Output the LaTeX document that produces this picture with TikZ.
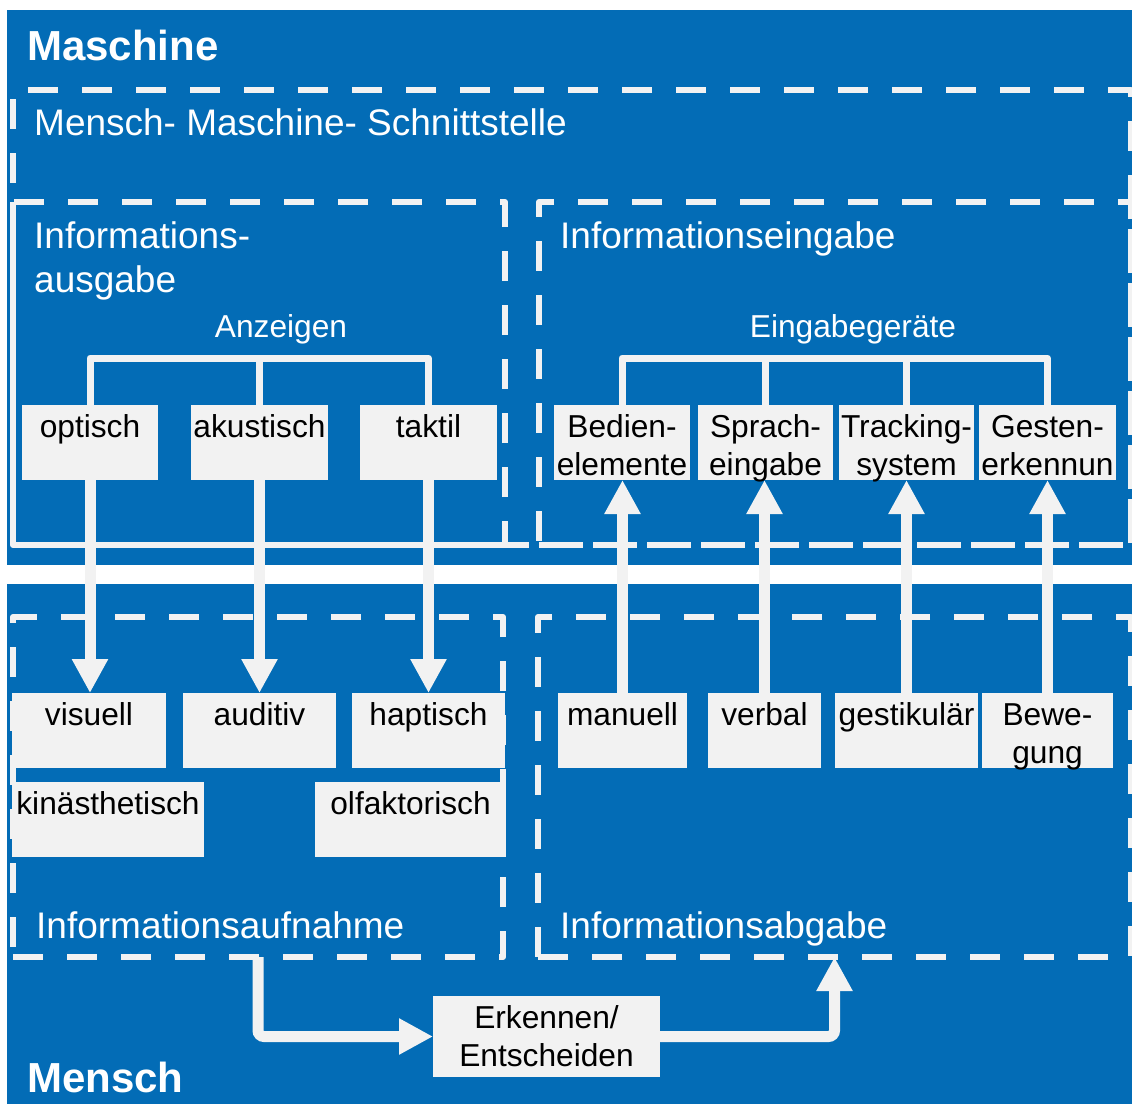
\documentclass[tikz,border=0pt]{standalone}
\usepackage{fontspec}
\setmainfont{Liberation Sans}
\usetikzlibrary{arrows.meta}

\definecolor{panelblue}{RGB}{3,108,182}
\definecolor{boxgray}{RGB}{242,242,242}

\newcommand\titlefont{\fontsize{42}{48}\selectfont\bfseries}
\newcommand\biglabel{\fontsize{37}{44}\selectfont}
\newcommand\boxfont{\fontsize{31.7}{38}\selectfont}
% box contents: text hangs from the top edge of a fixed-size cell
\newcommand\cell[3]{\parbox[t][#2][t]{#1}{\centering\rule{0pt}{32pt}#3}}

\begin{document}
\begin{tikzpicture}[x=1pt,y=-1pt,
  frame/.style={draw=boxgray, line width=6pt, dash pattern=on 30pt off 24pt,
    line join=round, inner sep=0pt, outer sep=0pt, anchor=north west},
  solidframe/.style={draw=boxgray, line width=6pt, line join=round},
  bracket/.style={draw=boxgray, line width=7pt, line join=round},
  flow/.style={draw=boxgray, line width=11pt, -{Triangle[width=34pt,length=34pt]}},
  box/.style={fill=boxgray, inner sep=0pt, outer sep=0pt, anchor=north west,
    text=black, font=\boxfont},
  label/.style={text=white, inner sep=0pt, font=\biglabel},
  title/.style={text=white, inner sep=0pt, font=\titlefont, anchor=base west}]

\useasboundingbox (0,0) rectangle (1132,1104);

% machine and human panels
\fill[panelblue] (7,10) rectangle (1132,565);
\fill[panelblue] (7,584) rectangle (1132,1104);
\node[title] (maschine) at (27,60) {Maschine};
\node[title] (mensch) at (27,1092) {Mensch};

% interface frames
\node[frame, minimum width=1118pt, minimum height=455pt] (mms) at (13,90) {};
\node[frame, minimum width=492pt, minimum height=343pt] (ausgabe) at (13,202) {};
\draw[solidframe] (ausgabe.north west) -- (ausgabe.south west) -- (ausgabe.south east);
\node[frame, minimum width=592pt, minimum height=343pt] (eingabe) at (539,202) {};
\node[frame, minimum width=490pt, minimum height=340pt] (aufnahme) at (13,617) {};
\node[frame, minimum width=593pt, minimum height=340pt] (abgabe) at (538,617) {};

% frame captions
\node[label, anchor=base west] (mmslbl) at (34,135) {Mensch- Maschine- Schnittstelle};
\node[label, anchor=base west] (auslbl) at (34,248)
  {\parbox[t]{300pt}{\biglabel Informations-\\ausgabe}};
\node[label, anchor=base west] (einlbl) at (560,248) {Informationseingabe};
\node[label, anchor=base west] (auflbl) at (36,938) {Informationsaufnahme};
\node[label, anchor=base west] (abglbl) at (560,938) {Informationsabgabe};
\node[label, font=\boxfont, anchor=base] (anz) at (281,337) {Anzeigen};
\node[label, font=\boxfont, anchor=base] (eg) at (853,337) {Eingabegeräte};

% output devices
\node[box] (optisch) at (22,405) {\cell{136pt}{75pt}{optisch}};
\node[box] (akustisch) at (191,405) {\cell{137pt}{75pt}{akustisch}};
\node[box] (taktil) at (360,405) {\cell{137pt}{75pt}{taktil}};

% input devices
\node[box] (bedien) at (554,405) {\cell{136pt}{75pt}{Bedien-\\elemente}};
\node[box] (sprach) at (698,405) {\cell{135pt}{75pt}{Sprach-\\eingabe}};
\node[box] (tracking) at (839,405) {\cell{135pt}{75pt}{Tracking-\\system}};
\node[box] (gesten) at (979,405) {\cell{137pt}{75pt}{Gesten-\\erkennun}};

% human senses
\node[box] (visuell) at (12,693) {\cell{154pt}{75pt}{visuell}};
\node[box] (auditiv) at (183,693) {\cell{153pt}{75pt}{auditiv}};
\node[box] (haptisch) at (352,693) {\cell{153pt}{75pt}{haptisch}};
\node[box] (kin) at (12,782) {\cell{192pt}{75pt}{kinästhetisch}};
\node[box] (olf) at (315,782) {\cell{191pt}{75pt}{olfaktorisch}};

% human output channels
\node[box] (manuell) at (558,693) {\cell{129pt}{75pt}{manuell}};
\node[box] (verbal) at (708,693) {\cell{113pt}{75pt}{verbal}};
\node[box] (gestik) at (835,693) {\cell{143pt}{75pt}{gestikulär}};
\node[box] (beweg) at (982,693) {\cell{131pt}{75pt}{Bewe-\\gung}};

% cognition
\node[box] (erk) at (433,996) {\cell{227pt}{81pt}{Erkennen/\\Entscheiden}};

% tree brackets
\coordinate (abar) at (0,358);
\draw[bracket] (optisch.north) |- (abar -| taktil.north) -- (taktil.north);
\draw[bracket] (akustisch.north) -- (akustisch.north |- abar);
\draw[bracket] (bedien.north) |- (abar -| gesten.north) -- (gesten.north);
\draw[bracket] (sprach.north) -- (sprach.north |- abar);
\draw[bracket] (tracking.north) -- (tracking.north |- abar);

% information flow
\draw[flow] (optisch.south) -- (optisch.south |- visuell.north);
\draw[flow] (akustisch.south) -- (akustisch.south |- auditiv.north);
\draw[flow] (taktil.south) -- (taktil.south |- haptisch.north);
\draw[flow] (manuell.north) -- (manuell.north |- bedien.south);
\draw[flow] (verbal.north) -- (verbal.north |- sprach.south);
\draw[flow] (gestik.north) -- (gestik.north |- tracking.south);
\draw[flow] (beweg.north) -- (beweg.north |- gesten.south);
\draw[flow, rounded corners=6pt] (aufnahme.south) |- (erk.west);
\draw[flow, rounded corners=6pt] (erk.east) -| (abgabe.south);
\end{tikzpicture}
\end{document}
